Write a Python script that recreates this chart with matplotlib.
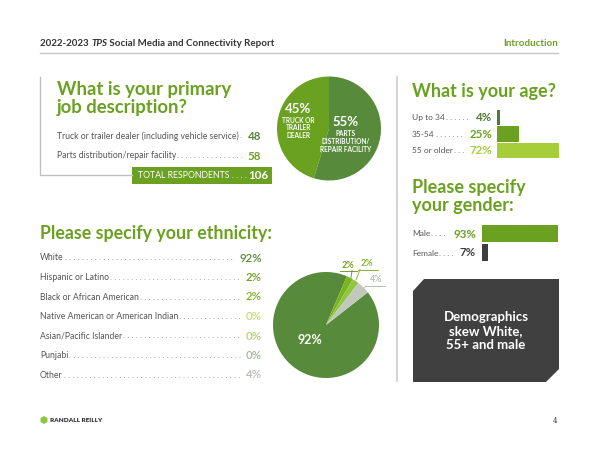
import matplotlib
matplotlib.use('Agg')
import matplotlib.pyplot as plt
from matplotlib.patches import Polygon, Rectangle, RegularPolygon

plt.rcParams['font.family'] = ['Lato', 'DejaVu Sans']

GREEN = '#6aa121'
DARK_GREEN = '#578a3a'
GRAY_TXT = '#555555'
DARK = '#3f3f3f'
TITLE_W = 'bold'

# job description
job_labels = ['Truck or trailer dealer (including vehicle service)', 'Parts distribution/repair facility']
job_counts = [48, 58]
job_total = 106
job_pie_text = ['TRUCK OR\nTRAILER\nDEALER', 'PARTS\nDISTRIBUTION/\nREPAIR FACILITY']

# age
age_labels = ['Up to 34', '35-54', '55 or older']
age_values = [4, 25, 72]
age_colors = ['#4e7d32', '#6aa121', '#a6cd3a']

# gender
gender_labels = ['Male', 'Female']
gender_values = [93, 7]
gender_colors = ['#6aa121', '#3f3f3f']

# ethnicity
eth_labels = ['White', 'Hispanic or Latino', 'Black or African American',
              'Native American or American Indian', 'Asian/Pacific Islander', 'Punjabi', 'Other']
eth_values = [92, 2, 2, 0, 0, 0, 4]
eth_txt_colors = ['#578a3a', '#6aa121', '#7cb229', '#c8dc6e', '#b3d36a', '#a9b79c', '#bcbcb4']
eth_pie_colors = ['#578a3a', '#79b41d', '#8fc63f', '#b3d36a', '#c8dc6e', '#a9b79c', '#c3c8bd']

W, H = 600, 463
fig = plt.figure(figsize=(6, 4.63), dpi=100)
ax = fig.add_axes([0, 0, 1, 1])
ax.set_xlim(0, W)
ax.set_ylim(H, 0)
ax.axis('off')
ax.set_zorder(5)  # texts on top of the pies
renderer = fig.canvas.get_renderer()


def px_axes(x0, y0, x1, y1):
    # axes placed by pixel box (top-left origin)
    return fig.add_axes([x0 / W, 1 - y1 / H, (x1 - x0) / W, (y1 - y0) / H])


def leader(x0, x1, y, label, value, size, vsize, vcolor, vweight='bold'):
    t = ax.text(x0, y, label, fontsize=size, color=GRAY_TXT, va='center')
    v = ax.text(x1, y, value, fontsize=vsize, color=vcolor, fontweight=vweight,
                ha='right', va='center')
    wl = t.get_window_extent(renderer).width
    wv = v.get_window_extent(renderer).width
    probe = ax.text(0, -50, '. ' * 20, fontsize=size)
    wd = probe.get_window_extent(renderer).width / 20
    probe.remove()
    n = int((x1 - x0 - wl - wv - 3) / wd)
    if n > 0:
        ax.text(x0 + wl + 1, y, '. ' * n, fontsize=size, color='#8a8a8a', va='center')


# header, with TPS in italics
x = 40
for piece, style in [('2022-2023 ', 'normal'), ('TPS', 'italic'),
                     (' Social Media and Connectivity Report', 'normal')]:
    t = ax.text(x, 43, piece, fontsize=7, fontweight='bold', fontstyle=style,
                color='#333333', va='center')
    x += t.get_window_extent(renderer).width
ax.text(558, 43, 'Introduction', fontsize=7, fontweight='bold', color=GREEN,
        ha='right', va='center')
ax.plot([40, 558], [53, 53], color='#c4c4c4', lw=1)

# job description panel
ax.plot([40, 40, 132], [77, 175, 175], color='#c0c0c0', lw=1)
ax.text(57, 90, 'What is your primary', fontsize=13.3, fontweight=TITLE_W, color=GREEN, va='center')
ax.text(57, 107, 'job description?', fontsize=13.3, fontweight=TITLE_W, color=GREEN, va='center')
for i, (lab, cnt) in enumerate(zip(job_labels, job_counts)):
    leader(57, 261, 136 + 20 * i, lab, str(cnt), 6.2, 8.3, DARK_GREEN if i == 0 else GREEN)
ax.add_patch(Rectangle((132, 167), 140, 17, color=GREEN, lw=0))
ax.text(138, 175.5, 'TOTAL RESPONDENTS . . . .', fontsize=6.3, color='white', va='center')
ax.text(268, 175.5, str(job_total), fontsize=8.3, fontweight='bold', color='white',
        ha='right', va='center')

pax = px_axes(277, 76, 381, 181)
pax.pie(job_counts, colors=[GREEN, DARK_GREEN], startangle=90, counterclock=True,
        wedgeprops=dict(linewidth=0))
pax.set_xlim(-1, 1)
pax.set_ylim(-1, 1)
pax.set_aspect('equal')
job_pct = [round(100 * c / job_total) for c in job_counts]
ax.text(298.5, 109, f'{job_pct[0]}%', fontsize=9.5, fontweight='bold', color='white',
        ha='center', va='center')
ax.text(298.5, 128, job_pie_text[0], fontsize=4.7, fontweight='bold', color='white',
        ha='center', va='center', linespacing=1.15)
ax.text(345.5, 122, f'{job_pct[1]}%', fontsize=9.5, fontweight='bold', color='white',
        ha='center', va='center')
ax.text(345.5, 141.5, job_pie_text[1], fontsize=4.7, fontweight='bold', color='white',
        ha='center', va='center', linespacing=1.15)

# divider
ax.plot([397, 397], [77, 381], color='#cccccc', lw=1.2)

# age
ax.text(412, 92, 'What is your age?', fontsize=13, fontweight=TITLE_W, color=GREEN, va='center')
age_y = [117.5, 134.5, 150.5]
for lab, val, col, y in zip(age_labels, age_values, age_colors, age_y):
    leader(412, 492, y, lab, f'{val}%', 6, 8.3, col)
bax = px_axes(497, 109.5, 583, 158.5)
bax.barh(range(len(age_values)), age_values, height=0.94, color=age_colors)
bax.set_xlim(0, 100)
bax.set_ylim(2.5, -0.5)
bax.axis('off')

# gender
ax.text(412, 188, 'Please specify', fontsize=13, fontweight=TITLE_W, color=GREEN, va='center')
ax.text(412, 206, 'your gender:', fontsize=13, fontweight=TITLE_W, color=GREEN, va='center')
gender_y = [234, 253]
for lab, val, col, y in zip(gender_labels, gender_values, gender_colors, gender_y):
    leader(412, 476, y, lab, f'{val}%', 6, 8.3, col)
gax = px_axes(482, 224.5, 564, 261.5)
gax.barh(range(len(gender_values)), gender_values, height=0.9, color=gender_colors)
gax.set_xlim(0, 100)
gax.set_ylim(1.5, -0.5)
gax.axis('off')

# takeaway box
ax.add_patch(Polygon([(424, 279), (559, 279), (559, 369), (546, 382), (413, 382), (413, 291)],
                     closed=True, color='#404040', lw=0))
ax.text(486, 331, 'Demographics\nskew White,\n55+ and male', fontsize=9.5, fontweight='bold',
        color='white', ha='center', va='center', linespacing=1.2)

# ethnicity
ax.text(40, 233, 'Please specify your ethnicity:', fontsize=12.8, fontweight=TITLE_W,
        color=GREEN, va='center')
eth_y = [258, 277.5, 297, 316.5, 336, 355.5, 375]
for lab, val, col, y in zip(eth_labels, eth_values, eth_txt_colors, eth_y):
    leader(40, 262, y, lab, f'{val}%', 6.2, 8.3, col, vweight='semibold')

eax = px_axes(273, 272, 379, 378)
eax.pie(eth_values, colors=eth_pie_colors, startangle=38, counterclock=False,
        wedgeprops=dict(linewidth=0))
eax.set_xlim(-1, 1)
eax.set_ylim(-1, 1)
eax.set_aspect('equal')
ax.text(309.5, 340, f'{eth_values[0]}%', fontsize=9, fontweight='bold', color='white',
        ha='center', va='center')
# small slice call-outs
ax.text(348, 265, f'{eth_values[1]}%', fontsize=6.5, fontweight='bold', color='#7a9a2a',
        ha='center', va='center')
ax.plot([340, 357], [270.5, 270.5], color='#7a9a2a', lw=0.7)
ax.plot([352, 351], [270.5, 278], color='#7a9a2a', lw=0.7)
ax.text(367, 263.5, f'{eth_values[2]}%', fontsize=6.5, fontweight='bold', color='#8ab43a',
        ha='center', va='center')
ax.plot([358, 378], [269.5, 269.5], color='#8ab43a', lw=0.7)
ax.plot([360, 356], [269.5, 280], color='#8ab43a', lw=0.7)
ax.text(376, 280, f'{eth_values[6]}%', fontsize=6.5, color='#a9b0a6', ha='center', va='center')
ax.plot([366, 385], [286, 286], color='#b8bdb4', lw=0.7)
ax.plot([366, 363], [286, 289], color='#b8bdb4', lw=0.7)

# footer
ax.add_patch(RegularPolygon((44, 420), numVertices=6, radius=4, color='#8dc63f', lw=0))
ax.text(50, 420.5, 'RANDALL REILLY', fontsize=4.6, fontweight='heavy', color='#333333', va='center')
ax.text(557, 421, '4', fontsize=5, family='DejaVu Serif', color='#333333', ha='right', va='center')

fig.savefig('out.png', dpi=100)
